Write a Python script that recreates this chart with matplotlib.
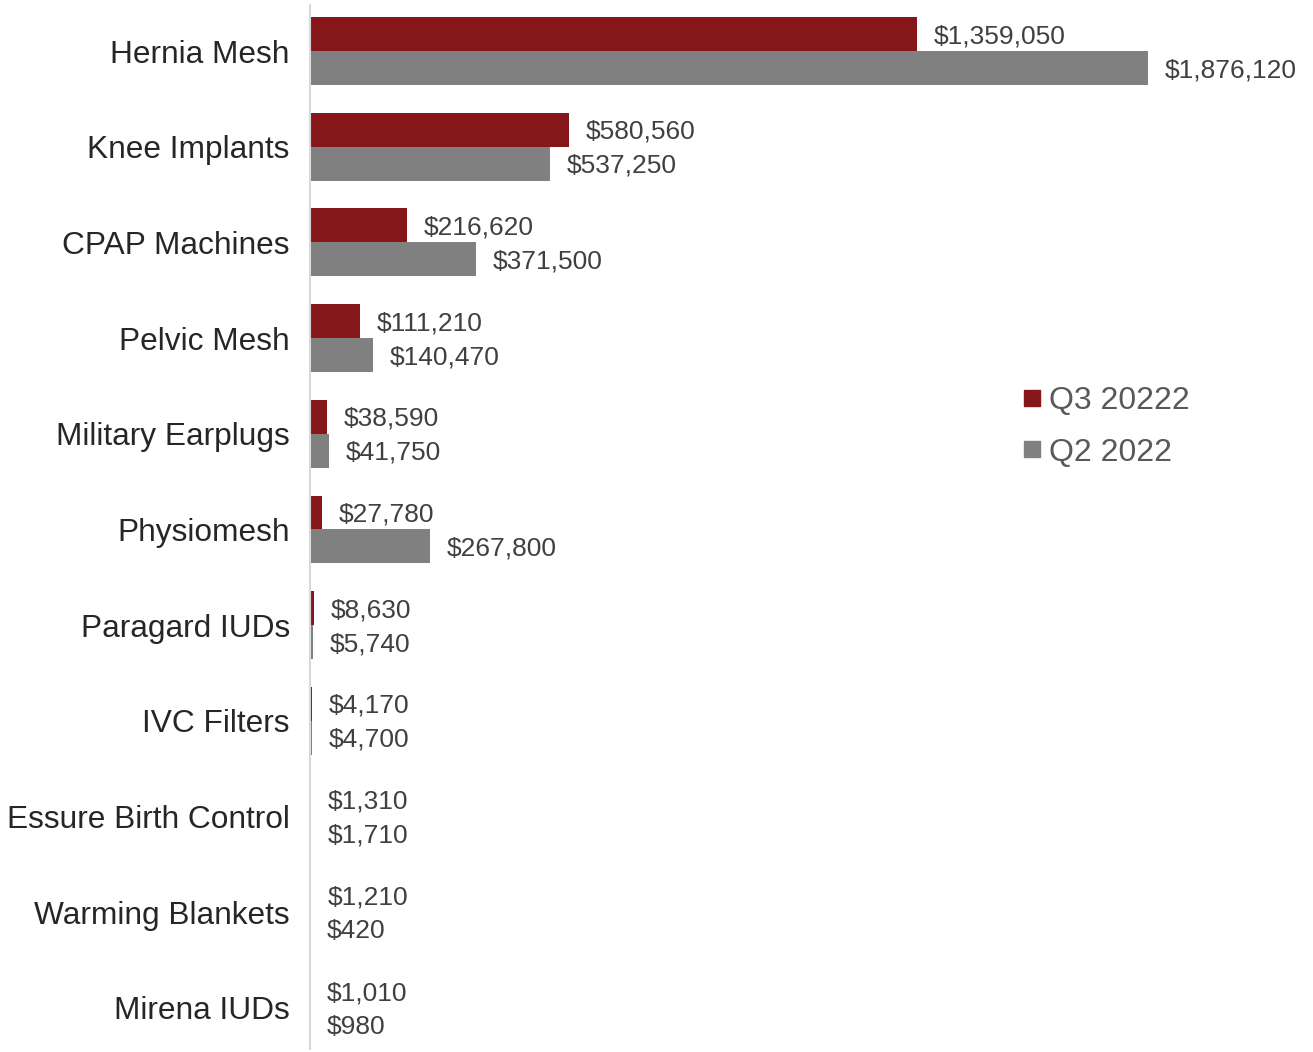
import matplotlib
matplotlib.use("Agg")
from matplotlib import pyplot as plt
from matplotlib.lines import Line2D
import numpy as np

plt.rcParams['font.family'] = ['Liberation Sans', 'DejaVu Sans']

# Data
categories = ['Hernia Mesh', 'Knee Implants', 'CPAP Machines', 'Pelvic Mesh',
              'Military Earplugs', 'Physiomesh', 'Paragard IUDs', 'IVC Filters',
              'Essure Birth Control', 'Warming Blankets', 'Mirena IUDs']
q3_2022 = [1359050, 580560, 216620, 111210, 38590, 27780, 8630, 4170, 1310, 1210, 1010]
q2_2022 = [1876120, 537250, 371500, 140470, 41750, 267800, 5740, 4700, 1710, 420, 980]
series_names = ['Q3 20222', 'Q2 2022']

RED = '#85171A'
GRAY = '#808080'

W, H = 1313, 1052
fig = plt.figure(figsize=(W / 100, H / 100), dpi=100)
ax = fig.add_axes([310 / W, 0, 1 - 310 / W, 1])

y = np.arange(len(categories))
bar_h = 0.355

bars_q3 = ax.barh(y - bar_h / 2, q3_2022, height=bar_h, color=RED)
bars_q2 = ax.barh(y + bar_h / 2, q2_2022, height=bar_h, color=GRAY)


def add_labels(bars, values):
    for bar, val in zip(bars, values):
        ax.annotate(f'${val:,}', xy=(bar.get_width(), bar.get_y() + bar.get_height() / 2),
                    xytext=(12, -1.5), textcoords='offset points',
                    va='center', ha='left', fontsize=19, color='#404040')


add_labels(bars_q3, q3_2022)
add_labels(bars_q2, q2_2022)

ax.set_xlim(0, 2245500)
ax.set_ylim(10.46, -0.533)

ax.set_yticks(y)
ax.set_yticklabels(categories, fontsize=22.8, color='#262626')
ax.tick_params(axis='y', length=0, pad=14.5)
ax.set_xticks([])

for side in ['top', 'right', 'bottom']:
    ax.spines[side].set_visible(False)
ax.spines['left'].set_color('#d9d9d9')
ax.spines['left'].set_linewidth(1.5)
ax.spines['left'].set_bounds(10.43, -0.48)

handles = [Line2D([], [], marker='s', linestyle='', markersize=12, color=RED),
           Line2D([], [], marker='s', linestyle='', markersize=12, color=GRAY)]
fig.legend(handles, series_names, loc='center left',
           bbox_to_anchor=(1023 / W, 1 - 427 / H), frameon=False,
           fontsize=23, labelcolor='#595959', handlelength=0.55,
           handletextpad=0.25, labelspacing=0.66, borderpad=0, borderaxespad=0)

fig.savefig('out.png', dpi=100)
